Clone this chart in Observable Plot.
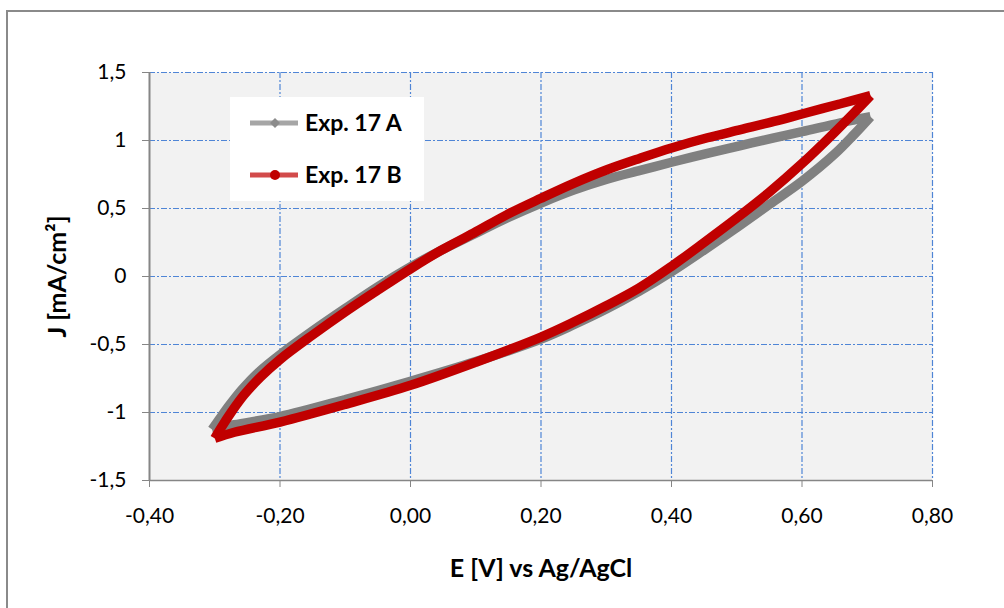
<!DOCTYPE html>
<html>
<head>
<meta charset="utf-8">
<script src="https://cdn.jsdelivr.net/npm/d3@7"></script>
<script src="https://cdn.jsdelivr.net/npm/@observablehq/plot@0.6"></script>
<style>
  html, body { margin: 0; padding: 0; background: #fff; overflow: hidden; }
  #wrap { position: relative; width: 1004px; height: 608px; }
  #border { position: absolute; left: 6px; top: 10px; width: 1020px; height: 620px; border: 2px solid #8a8a8a; box-sizing: border-box; }
  #chart { position: absolute; left: 0; top: 0; }
  #legend { position: absolute; left: 230px; top: 97px; width: 194px; height: 104px; background: #fff; }
</style>
</head>
<body>
<div id="wrap">
  <div id="border"></div>
  <div id="chart"></div>
  <div id="legend"></div>
</div>
<script>
// Series names
const seriesNames = ["Exp. 17 A", "Exp. 17 B"];

// Exp. 17 A (E in V, J in mA/cm²) — anodic branch (up to vertex), then cathodic branch (back)
const eA_up = [-0.304,-0.293,-0.278,-0.258,-0.233,-0.200,-0.150,-0.100,-0.050,0.000,0.046,0.097,0.148,0.200,0.250,0.301,0.352,0.400,0.455,0.506,0.557,0.600,0.659,0.705];
const jA_up = [-1.125,-1.050,-0.950,-0.830,-0.705,-0.575,-0.400,-0.235,-0.075,0.070,0.190,0.310,0.430,0.540,0.635,0.715,0.780,0.840,0.905,0.963,1.020,1.065,1.130,1.175];
const eA_down = [0.705,0.680,0.650,0.600,0.550,0.500,0.450,0.400,0.350,0.300,0.250,0.200,0.100,0.000,-0.100,-0.200,-0.270,-0.304];
const jA_down = [1.175,1.045,0.900,0.700,0.530,0.360,0.195,0.035,-0.110,-0.240,-0.355,-0.460,-0.625,-0.770,-0.905,-1.030,-1.090,-1.125];

// Exp. 17 B
const eB_up = [-0.300,-0.290,-0.275,-0.255,-0.230,-0.200,-0.150,-0.100,-0.050,0.000,0.046,0.097,0.148,0.200,0.250,0.301,0.352,0.400,0.455,0.506,0.557,0.600,0.659,0.705];
const jB_up = [-1.190,-1.110,-1.000,-0.870,-0.740,-0.610,-0.430,-0.260,-0.100,0.056,0.190,0.320,0.455,0.575,0.685,0.785,0.870,0.945,1.020,1.080,1.140,1.195,1.270,1.330];
const eB_down = [0.705,0.679,0.650,0.600,0.550,0.500,0.450,0.400,0.350,0.300,0.250,0.200,0.100,0.000,-0.100,-0.200,-0.270,-0.300];
const jB_down = [1.330,1.200,1.060,0.830,0.620,0.430,0.250,0.075,-0.085,-0.215,-0.335,-0.445,-0.630,-0.800,-0.940,-1.070,-1.145,-1.190];

// Ticks
const xTicks = [-0.4, -0.2, 0, 0.2, 0.4, 0.6, 0.8];
const xTickLabels = ["-0,40", "-0,20", "0,00", "0,20", "0,40", "0,60", "0,80"];
const yTicks = [-1.5, -1, -0.5, 0, 0.5, 1, 1.5];
const yTickLabels = ["-1,5", "-1", "-0,5", "0", "0,5", "1", "1,5"];

const xTitle = "E [V] vs Ag/AgCl";
const yTitle = "J [mA/cm²]";

const colors = ["#808080", "#c00000"];
const legendLine = ["#a6a6a6", "#d24b4b"];
const legendMarker = ["#8c8c8c", "#c00000"];

function rows(es, js, branch) { return es.map((e, i) => ({E: e, J: js[i], branch})); }
const dataA = [...rows(eA_up, jA_up, "up"), ...rows(eA_down, jA_down, "down")];
const dataB = [...rows(eB_up, jB_up, "up"), ...rows(eB_down, jB_down, "down")];

const gridStyle = {stroke: "#4f85d6", strokeWidth: 1.2, strokeDasharray: "6,2,2,2"};
const lineStyle = {x: "E", y: "J", z: "branch", strokeWidth: 9.5, curve: "catmull-rom", strokeLinecap: "butt", strokeLinejoin: "miter"};

const chart = Plot.plot({
  width: 1004,
  height: 608,
  marginLeft: 149,
  marginRight: 72,
  marginTop: 72,
  marginBottom: 128,
  style: {fontFamily: "Lato, 'Open Sans', sans-serif", fontSize: "21px", color: "#000", background: "transparent", overflow: "visible"},
  x: {domain: [-0.4, 0.8]},
  y: {domain: [-1.5, 1.5]},
  marks: [
    Plot.frame({fill: "#f2f2f2", stroke: null}),
    Plot.ruleX(xTicks.slice(1), gridStyle),
    Plot.ruleY(yTicks.slice(1), gridStyle),
    Plot.axisX({ticks: xTicks, tickFormat: d => xTickLabels[xTicks.indexOf(d)], tickSize: 7, tickPadding: 21, stroke: "#868686", fill: "#000", label: null, fontSize: 21}),
    Plot.axisY({ticks: yTicks, tickFormat: d => yTickLabels[yTicks.indexOf(d)], tickSize: 7, tickPadding: 16, stroke: "#868686", fill: "#000", label: null, fontSize: 21}),
    Plot.ruleX([-0.4], {stroke: "#868686", strokeWidth: 2}),
    Plot.ruleY([-1.5], {stroke: "#868686", strokeWidth: 1.5}),
    Plot.line(dataA, {...lineStyle, stroke: colors[0]}),
    Plot.line(dataB, {...lineStyle, stroke: colors[1]}),
    Plot.text([xTitle], {frameAnchor: "bottom", dy: 88, lineAnchor: "middle", textAnchor: "middle", fontWeight: "bold", fontSize: 25, fill: "#000"}),
    Plot.text([yTitle], {frameAnchor: "left", dx: -92, rotate: -90, lineAnchor: "middle", textAnchor: "middle", fontWeight: "bold", fontSize: 25, fill: "#000"})
  ]
});
document.getElementById("chart").appendChild(chart);

// Legend
const leg = d3.select("#legend").append("svg").attr("width", 194).attr("height", 104);
const rowsY = [26, 78];
seriesNames.forEach((name, i) => {
  const g = leg.append("g").attr("transform", `translate(0,${rowsY[i]})`);
  g.append("line").attr("x1", 20).attr("x2", 68).attr("y1", 0).attr("y2", 0)
    .attr("stroke", legendLine[i]).attr("stroke-width", 5);
  if (i === 0) {
    g.append("path").attr("d", "M45,-5L50,0L45,5L40,0Z").attr("fill", legendMarker[i]);
  } else {
    g.append("circle").attr("cx", 45).attr("cy", 0).attr("r", 5).attr("fill", legendMarker[i]);
  }
  g.append("text").attr("x", 75).attr("y", 0).attr("dy", "0.36em")
    .attr("font-family", "Lato, 'Open Sans', sans-serif").attr("font-weight", "bold")
    .attr("font-size", 23).attr("fill", "#000").text(name);
});
</script>
</body>
</html>
